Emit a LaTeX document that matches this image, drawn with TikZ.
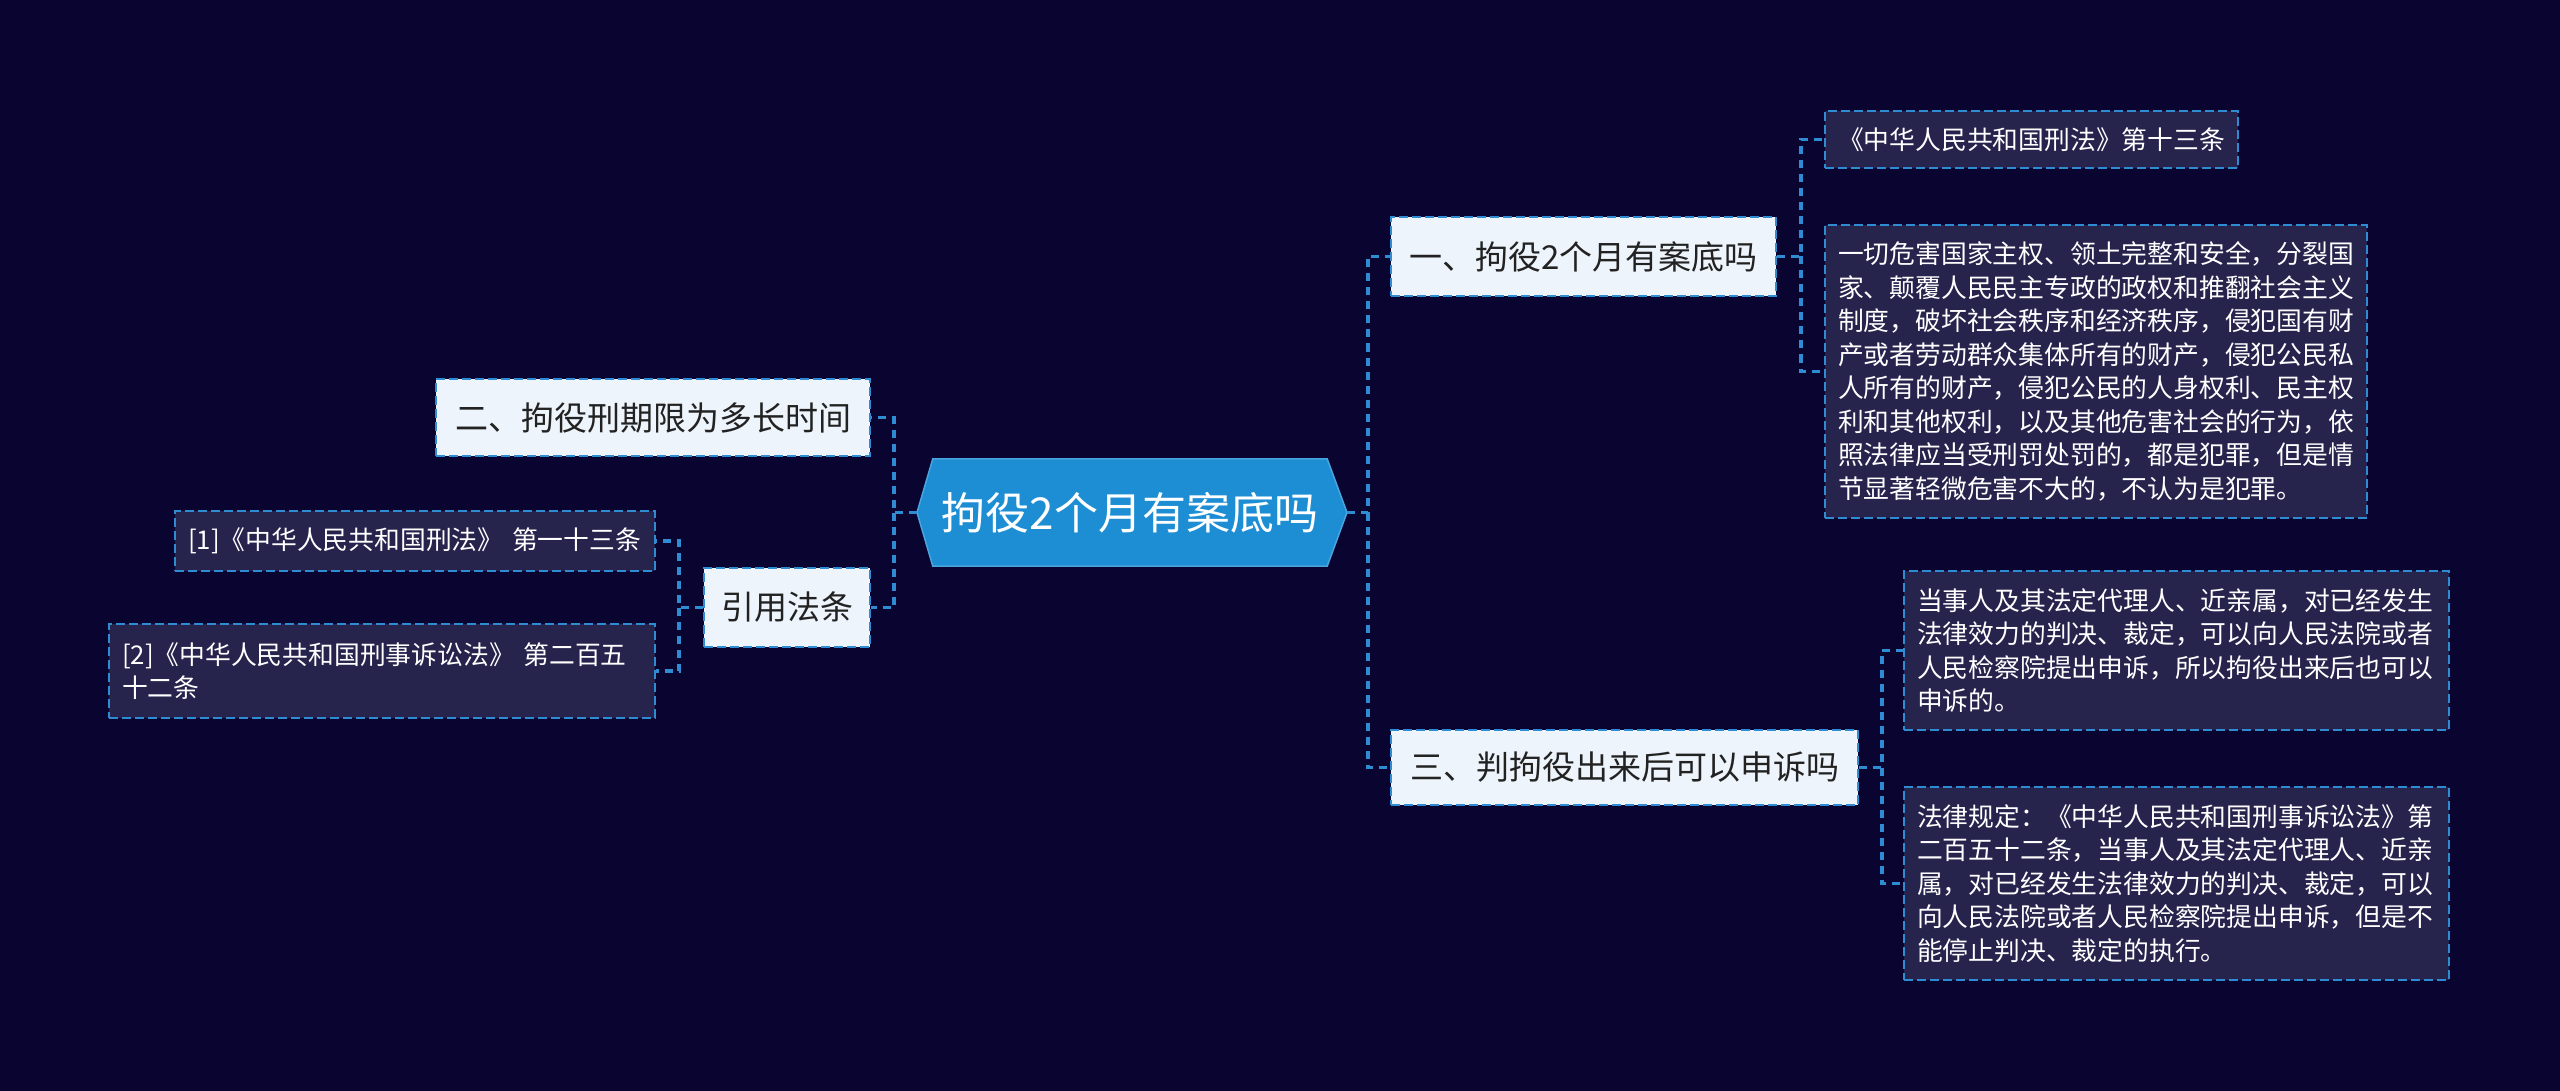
\documentclass[tikz,border=0pt]{standalone}
\usepackage{fontspec}
\newfontfamily\cjk{Noto Sans CJK SC}
\usetikzlibrary{backgrounds}
\definecolor{bg}{HTML}{0A0530}
\definecolor{leaffill}{HTML}{26234D}
\definecolor{lvfill}{HTML}{EEF4FB}
\definecolor{cfill}{HTML}{1D8DD4}
\definecolor{cline}{HTML}{2F8CD3}
\definecolor{darktext}{HTML}{222222}
\tikzset{
  conn/.style={draw=cline, line width=3.5pt, dash pattern=on 8pt off 6pt},
  lvbox/.style={draw=cline, line width=2.5pt, dash pattern=on 9pt off 4pt, fill=lvfill,
    text=darktext, font=\cjk\fontsize{33}{40}\selectfont, inner sep=0pt, align=center},
  leafbox/.style={draw=cline, line width=2.5pt, dash pattern=on 9pt off 4pt, fill=leaffill,
    text=white, font=\cjk\fontsize{25.8}{33.5}\selectfont, inner xsep=13pt, inner ysep=0pt, align=left},
  centralbox/.style={text=white, font=\cjk\fontsize{44}{50}\selectfont, inner sep=0pt,
    minimum width=394pt, minimum height=107pt}
}
\begin{document}
\begin{tikzpicture}[x=1pt,y=-1pt]
\begin{pgfonlayer}{background}
\fill[bg] (0,0) rectangle (2560,1091);
\end{pgfonlayer}
\useasboundingbox (0,0) rectangle (2560,1091);

% central
\node[centralbox] (c) at (1130,512.5) {拘役2个月有案底吗};
\coordinate (cL) at (917,512.5);
\coordinate (cR) at (1347,512.5);
\begin{pgfonlayer}{background}
\fill[cfill, draw=cfill!80!white, line width=1.5pt] (c.north west) -- (c.north east) -- (cR) -- (c.south east) -- (c.south west) -- (cL) -- cycle;
\end{pgfonlayer}

% level 1
\node[lvbox, minimum width=385pt, minimum height=79pt] (n1) at (1583.5,256.5) {一、拘役2个月有案底吗};
\node[lvbox, minimum width=467pt, minimum height=75pt] (n3) at (1624.5,767.5) {三、判拘役出来后可以申诉吗};
\node[lvbox, minimum width=434pt, minimum height=77pt] (n2) at (653,417.5) {二、拘役刑期限为多长时间};
\node[lvbox, minimum width=166pt, minimum height=79pt] (n4) at (787,607.5) {引用法条};

% leaves right
\node[leafbox, text width=387pt, minimum height=57pt] (l1) at (2031.5,139.5) {《中华人民共和国刑法》第十三条};
\node[leafbox, text width=516pt, minimum height=293pt] (l2) at (2096,371.5) {一切危害国家主权、领土完整和安全，分裂国\\家、颠覆人民民主专政的政权和推翻社会主义\\制度，破坏社会秩序和经济秩序，侵犯国有财\\产或者劳动群众集体所有的财产，侵犯公民私\\人所有的财产，侵犯公民的人身权利、民主权\\利和其他权利，以及其他危害社会的行为，依\\照法律应当受刑罚处罚的，都是犯罪，但是情\\节显著轻微危害不大的，不认为是犯罪。};
\node[leafbox, text width=519pt, minimum height=159pt] (l3) at (2176.5,650.5) {当事人及其法定代理人、近亲属，对已经发生\\法律效力的判决、裁定，可以向人民法院或者\\人民检察院提出申诉，所以拘役出来后也可以\\申诉的。};
\node[leafbox, text width=519pt, minimum height=193pt] (l4) at (2176.5,883.5) {法律规定：《中华人民共和国刑事诉讼法》第\\二百五十二条，当事人及其法定代理人、近亲\\属，对已经发生法律效力的判决、裁定，可以\\向人民法院或者人民检察院提出申诉，但是不\\能停止判决、裁定的执行。};

% leaves left
\node[leafbox, text width=454pt, minimum height=60pt] (p1) at (415,541) {[1]《中华人民共和国刑法》 第一十三条};
\node[leafbox, text width=520pt, minimum height=94pt] (p2) at (382,671) {[2]《中华人民共和国刑事诉讼法》 第二百五\\十二条};

% connectors
\coordinate (rt) at (1368,0);
\coordinate (r1) at (1801,0);
\coordinate (r3) at (1882,0);
\coordinate (lt) at (894,0);
\coordinate (l4x) at (679,0);

\draw[conn] (cR) -- (cR -| rt) |- (n1.west);
\draw[conn] (cR -| rt) |- (n3.west);
\draw[conn] (n1.east) -- (n1.east -| r1) |- (l1.west);
\draw[conn] (n1.east -| r1) |- (l2.west);
\draw[conn] (n3.east) -- (n3.east -| r3) |- (l3.west);
\draw[conn] (n3.east -| r3) |- (l4.west);
\draw[conn] (cL) -- (cL -| lt) |- (n2.east);
\draw[conn] (cL -| lt) |- (n4.east);
\draw[conn] (n4.west) -- (n4.west -| l4x) |- (p1.east);
\draw[conn] (n4.west -| l4x) |- (p2.east);
\end{tikzpicture}
\end{document}
